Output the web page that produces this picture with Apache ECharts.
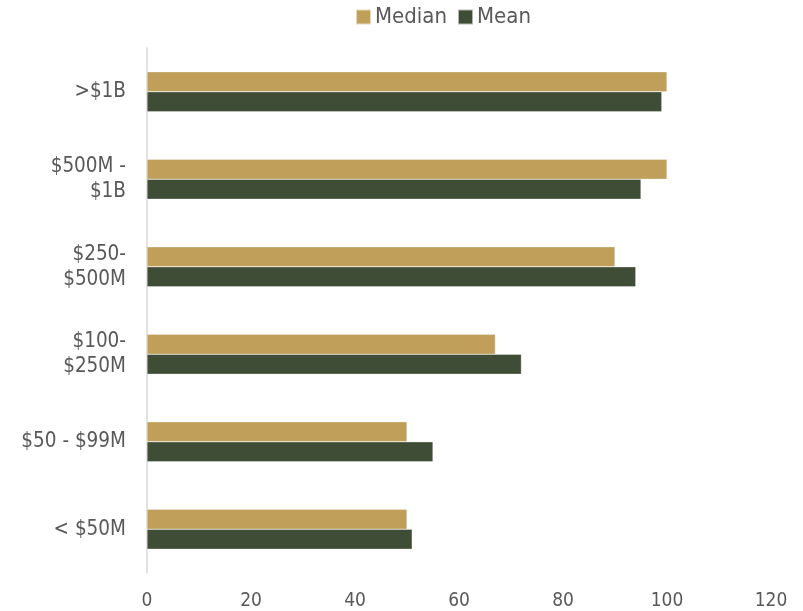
<!DOCTYPE html>
<html>
<head>
<meta charset="utf-8">
<script src="https://cdn.jsdelivr.net/npm/echarts@6/dist/echarts.min.js"></script>
<style>
  html, body { margin: 0; padding: 0; background: #fff; }
  #chart { width: 803px; height: 611px; }
</style>
</head>
<body>
<div id="chart"></div>
<script>
// Revenue bands, top to bottom
const categories = ['>$1B', '$500M -\n$1B', '$250-\n$500M', '$100-\n$250M', '$50 - $99M', '< $50M'];
const medianValues = [100, 100, 90, 67, 50, 50];
const meanValues = [99, 95, 94, 72, 55, 51];
const xTicks = { min: 0, max: 120, interval: 20 };

const textColor = '#595959';
const font = 'DejaVu Sans Condensed, DejaVu Sans, sans-serif';

const chart = echarts.init(document.getElementById('chart'));
chart.setOption({
  animation: false,
  textStyle: { fontFamily: font },
  legend: {
    top: 1,
    left: 350,
    icon: 'rect',
    itemWidth: 15,
    itemHeight: 15,
    itemGap: 10,
    textStyle: { color: textColor, fontSize: 22, fontFamily: font, padding: [0, 0, 0, -1] },
    data: ['Median', 'Mean']
  },
  grid: { left: 147, right: 32, top: 48, bottom: 38, containLabel: false },
  xAxis: {
    type: 'value',
    min: xTicks.min,
    max: xTicks.max,
    interval: xTicks.interval,
    axisLine: { show: false },
    axisTick: { show: false },
    splitLine: { show: false },
    axisLabel: { color: textColor, fontSize: 19, margin: 19, fontFamily: font }
  },
  yAxis: {
    type: 'category',
    inverse: true,
    data: categories,
    axisLine: { show: true, lineStyle: { color: '#D9D9D9', width: 1.5 } },
    axisTick: { show: false },
    axisLabel: { color: textColor, fontSize: 20.5, margin: 21, lineHeight: 25, align: 'right', fontFamily: font }
  },
  series: [
    {
      name: 'Median',
      type: 'bar',
      data: medianValues,
      barWidth: 20,
      barGap: '0%',
      itemStyle: { color: '#BF9F5A', borderColor: 'rgba(255,255,255,0.6)', borderWidth: 0.5 }
    },
    {
      name: 'Mean',
      type: 'bar',
      data: meanValues,
      barWidth: 20,
      barGap: '0%',
      itemStyle: { color: '#404D36', borderColor: 'rgba(255,255,255,0.6)', borderWidth: 0.5 }
    }
  ]
});
</script>
</body>
</html>
